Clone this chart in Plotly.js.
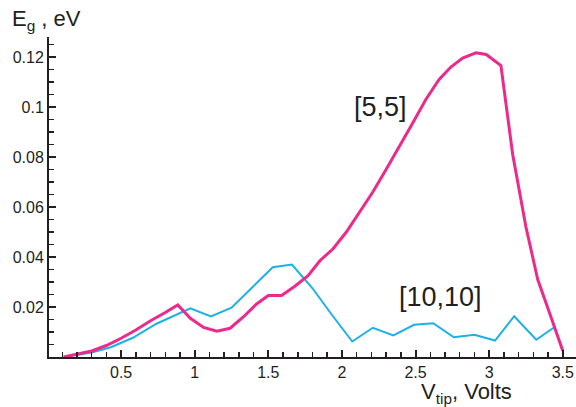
<!DOCTYPE html>
<html>
<head>
<meta charset="utf-8">
<script src="https://cdn.plot.ly/plotly-3.0.1.min.js"></script>
<style>html,body{margin:0;padding:0;background:#fff;}#chart{width:576px;height:407px;}</style>
</head>
<body>
<div id="chart"></div>
<script>
// [5,5] series
const vtip55 = [0.11,0.2,0.3,0.4,0.5,0.6,0.7,0.8,0.885,0.97,1.06,1.15,1.24,1.33,1.42,1.50,1.59,1.68,1.77,1.85,1.94,2.03,2.12,2.21,2.30,2.39,2.48,2.57,2.66,2.74,2.82,2.91,2.98,3.08,3.16,3.25,3.33,3.42,3.50];
const eg55 = [0,0.0012,0.0024,0.0046,0.0075,0.0108,0.0145,0.0178,0.0208,0.0155,0.0118,0.0103,0.0115,0.0160,0.0212,0.0246,0.0246,0.0283,0.0325,0.0385,0.0433,0.0500,0.0580,0.0660,0.0750,0.0840,0.0935,0.1030,0.1110,0.1160,0.1196,0.1217,0.1210,0.1166,0.0810,0.0520,0.0310,0.0160,0.0025];
// [10,10] series
const vtip1010 = [0.11,0.2,0.3,0.43,0.58,0.74,0.85,0.97,1.11,1.25,1.39,1.53,1.66,1.80,1.93,2.07,2.21,2.35,2.49,2.62,2.76,2.90,3.04,3.17,3.32,3.45];
const eg1010 = [0,0.0008,0.0018,0.0039,0.0077,0.0133,0.0162,0.0195,0.0162,0.0197,0.0278,0.0359,0.0370,0.0275,0.0170,0.0062,0.0117,0.0086,0.0129,0.0135,0.0079,0.0089,0.0066,0.0163,0.0069,0.0122];
// tick labels
const xTickVals = [0.5,1,1.5,2,2.5,3,3.5];
const xTickText = ["0.5","1","1.5","2","2.5","3","3.5"];
const yTickVals = [0.02,0.04,0.06,0.08,0.1,0.12];
const yTickText = ["0.02","0.04","0.06","0.08","0.1","0.12"];
const labels = ["[5,5]","[10,10]"];

const ink = '#231f20';
const font = 'Liberation Sans, Arial, sans-serif';

const traces = [
  {x: vtip1010, y: eg1010, mode:'lines', line:{color:'#1cb1e6', width:2}, hoverinfo:'skip'},
  {x: vtip55, y: eg55, mode:'lines', line:{color:'#ec2a8c', width:3}, hoverinfo:'skip'}
];

const axisCommon = {
  showgrid:false, zeroline:false, showline:true, linecolor:ink, linewidth:2,
  ticks:'inside', ticklen:7, tickwidth:2, tickcolor:ink,
  tickfont:{family:font, size:16, color:ink}
};

const layout = {
  width:576, height:407,
  margin:{l:49, r:0, t:37, b:50},
  paper_bgcolor:'#fff', plot_bgcolor:'#fff',
  showlegend:false,
  xaxis: Object.assign({}, axisCommon, {
    range:[0.01,3.59], tickmode:'array', tickvals:xTickVals, ticktext:xTickText,
    minor:{tickmode:'linear', tick0:0, dtick:0.1, ticks:'inside', ticklen:5, tickwidth:1.5, tickcolor:ink}
  }),
  yaxis: Object.assign({}, axisCommon, {
    range:[0,0.128], tickmode:'array', tickvals:yTickVals, ticktext:yTickText,
    minor:{tickmode:'linear', tick0:0, dtick:0.005, ticks:'inside', ticklen:5, tickwidth:1.5, tickcolor:ink}
  }),
  annotations:[
    {x:2.26, y:0.1002, xref:'x', yref:'y', text:labels[0], showarrow:false, font:{family:font, size:27, color:ink}},
    {x:2.67, y:0.0242, xref:'x', yref:'y', text:labels[1], showarrow:false, font:{family:font, size:27, color:ink}},
    {x:-0.074, y:1.052, xref:'paper', yref:'paper', xanchor:'left', yanchor:'middle', text:'E<sub>g</sub> , eV', showarrow:false, font:{family:font, size:22, color:ink}},
    {x:0.703, y:-0.113, xref:'paper', yref:'paper', xanchor:'left', yanchor:'middle', text:'V<sub>tip</sub>, Volts', showarrow:false, font:{family:font, size:22, color:ink}}
  ]
};

Plotly.newPlot('chart', traces, layout, {staticPlot:true, displayModeBar:false});
</script>
</body>
</html>
